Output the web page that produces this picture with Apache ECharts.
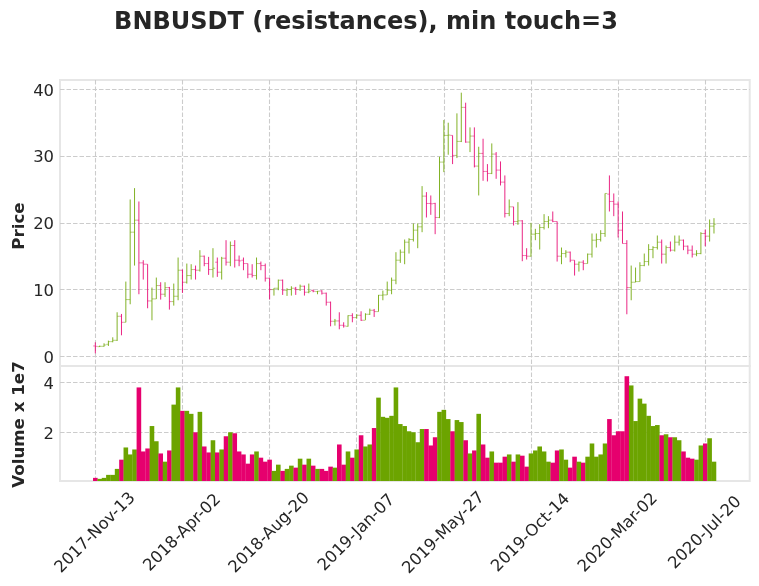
<!DOCTYPE html>
<html>
<head>
<meta charset="utf-8">
<script src="https://cdn.jsdelivr.net/npm/echarts@6/dist/echarts.min.js"></script>
<style>html,body{margin:0;padding:0;background:#fff}#c{width:759px;height:586px}</style>
</head>
<body>
<div id="c"></div>
<script>
const opens=[1.55,1.45,1.5,1.8,2.2,2.4,6.0,5.1,8.5,18.6,20.4,14.0,13.8,8.3,8.6,10.6,9.3,10.3,8.2,9.0,12.9,11.1,12.1,13.0,12.9,15.0,13.9,13.0,14.1,12.6,14.7,14.1,16.6,14.4,14.4,13.9,12.3,12.1,13.9,13.6,11.7,10.0,10.2,11.4,9.9,10.0,10.2,10.0,10.5,9.6,9.85,9.7,9.8,9.45,8.1,5.25,5.3,4.65,4.5,6.1,5.8,6.15,5.4,6.3,6.9,6.7,9.15,9.2,9.9,11.4,14.4,15.6,17.1,17.5,18.9,19.4,24.0,22.9,22.9,20.8,29.1,33.1,33.1,30.1,32.2,37.3,32.1,33.0,28.5,30.4,27.7,27.4,30.3,27.9,26.1,21.4,22.4,20.2,20.3,15.1,15.0,18.3,18.4,19.3,20.2,20.4,20.2,15.0,15.4,15.6,14.4,13.8,14.1,13.9,15.3,17.4,17.5,18.4,24.3,23.2,22.8,18.9,16.9,10.3,11.1,11.2,13.6,14.2,16.0,16.3,17.1,15.3,16.3,15.9,17.1,17.4,16.5,15.9,15.3,15.4,18.4,18.0,19.5];
const highs=[2.1,1.6,1.95,2.35,2.85,6.6,6.35,11.2,23.5,25.2,23.2,14.4,13.8,10.3,11.8,11.1,11.1,10.4,10.9,14.8,13.0,13.9,13.8,13.6,15.9,15.1,14.9,16.2,14.8,14.9,17.4,17.2,17.4,15.1,14.8,13.9,13.8,14.8,14.2,13.9,11.7,10.2,11.5,11.5,10.2,10.5,10.4,10.75,10.6,10.9,10.0,9.8,9.9,9.55,8.2,5.6,6.6,5.1,6.15,6.45,6.3,6.75,6.45,7.15,7.1,9.2,9.85,11.2,11.8,15.6,16.0,17.5,17.7,19.9,19.9,25.5,24.6,24.1,23.0,29.9,35.4,35.0,33.1,36.4,39.5,38.0,34.3,34.3,31.4,32.6,28.8,31.9,30.6,29.2,27.1,23.5,22.4,23.1,20.4,16.2,20.0,19.1,19.8,21.3,21.0,21.7,20.2,16.3,15.9,15.7,14.4,14.2,14.4,15.4,18.4,18.4,18.9,24.4,27.1,24.4,23.2,21.7,17.4,13.6,13.3,14.1,15.4,16.8,16.5,18.1,17.5,16.6,17.2,18.1,18.1,17.5,16.6,16.6,15.9,18.6,19.0,20.5,20.7];
const lows=[0.45,1.4,1.45,1.55,2.1,2.3,3.15,5.1,7.8,13.6,9.3,11.5,7.2,5.4,8.6,8.5,8.9,7.0,7.6,8.4,9.5,10.9,11.5,11.5,12.7,13.5,12.2,11.8,11.9,11.5,13.6,13.5,13.3,13.5,12.9,11.7,11.8,11.5,12.9,11.2,8.5,9.1,9.9,9.2,9.05,9.1,9.2,9.8,9.1,9.45,9.6,9.3,9.25,7.6,4.5,4.6,4.05,4.3,4.45,5.1,5.65,5.3,5.45,6.2,5.9,6.7,8.4,9.2,9.3,10.8,14.0,13.8,15.4,17.2,16.2,18.6,20.8,21.2,18.3,20.7,27.6,30.2,28.8,29.7,32.1,32.0,30.6,28.3,24.1,26.3,26.2,27.3,26.6,25.6,20.8,21.0,19.6,19.7,14.25,14.5,14.95,17.4,16.0,19.0,19.2,20.1,14.2,13.8,14.8,14.1,12.1,12.7,12.9,13.9,14.8,16.3,17.2,17.9,21.7,21.0,17.8,16.9,6.3,8.4,11.1,11.2,13.5,13.6,14.7,16.0,13.9,13.9,15.7,15.7,16.6,15.9,15.3,14.8,15.0,15.3,16.5,17.2,18.4];
const closes=[1.5,1.5,1.7,2.2,2.4,6.0,5.1,8.5,18.6,20.4,14.0,13.8,8.3,8.6,10.6,9.3,10.3,8.2,9.0,12.9,11.1,12.1,13.0,12.9,15.0,13.9,13.0,13.2,12.6,14.7,14.1,16.6,14.4,14.3,13.9,12.3,12.1,13.9,13.6,11.7,10.0,10.2,11.4,9.9,10.0,10.2,10.0,10.5,9.6,9.75,9.75,9.75,9.45,8.1,5.25,5.3,4.65,4.55,6.1,5.8,6.15,5.4,6.3,6.9,6.7,9.15,9.2,9.9,11.4,14.4,15.6,17.1,17.5,18.9,19.4,24.0,22.9,22.85,20.8,29.1,33.1,33.15,30.1,32.2,37.3,32.1,33.0,28.5,30.4,27.7,27.4,30.3,27.9,26.1,21.4,22.4,20.2,20.3,15.1,15.0,18.3,18.4,19.3,20.2,20.4,20.2,15.0,15.4,15.6,14.4,13.8,14.1,13.9,15.3,17.4,17.5,18.4,24.4,23.2,22.8,18.9,16.9,10.3,11.1,11.2,13.6,14.2,16.0,16.3,17.1,15.3,16.3,15.9,17.1,17.4,16.5,15.9,15.3,15.4,18.4,18.0,19.5,19.8];
const volumes=[0.18,0.14,0.18,0.30,0.30,0.54,0.91,1.40,1.12,1.32,3.81,1.24,1.36,2.26,1.65,1.16,0.83,1.28,3.12,3.81,2.87,2.87,2.75,2.01,2.83,1.44,1.20,1.69,1.20,1.32,1.85,2.01,1.97,1.24,1.12,0.75,1.12,1.24,0.99,0.83,0.91,0.46,0.71,0.46,0.54,0.67,0.59,0.95,0.71,0.95,0.67,0.54,0.54,0.46,0.63,0.59,1.52,0.71,1.24,0.99,1.32,1.89,1.44,1.52,2.18,3.40,2.63,2.59,2.67,3.81,2.34,2.26,2.05,2.01,1.61,2.14,2.14,1.48,1.81,2.83,2.91,2.54,2.05,2.50,2.42,1.69,1.16,1.28,2.75,1.52,0.99,1.24,0.79,0.79,1.03,1.12,0.83,1.12,1.07,0.63,1.16,1.28,1.44,1.24,0.83,0.79,1.28,1.32,0.91,0.59,1.03,0.83,0.79,1.03,1.56,1.03,1.12,1.56,2.54,1.89,2.05,2.05,4.26,3.89,2.46,3.36,3.16,2.67,2.26,2.30,1.89,1.93,1.81,1.81,1.69,1.24,0.99,0.95,0.91,1.48,1.56,1.77,0.83];
const tickPositions=[0,20,40,60,80,100,120,140];
const tickLabels=['2017-Nov-13','2018-Apr-02','2018-Aug-20','2019-Jan-07','2019-May-27','2019-Oct-14','2020-Mar-02','2020-Jul-20'];
const priceTicks=[0,10,20,30,40];
const volumeTicks=[2,4];

const UP='#6ca400', DOWN='#e6006e', TXT='#262626';
const FONT='"DejaVu Sans"';
const indexes=opens.map((_,i)=>i);
const XMIN=-8.11, XMAX=150.2;
const grid={show:true,backgroundColor:'#fff',borderColor:'#e6e6e6',borderWidth:2,outerBoundsMode:'none',containLabel:false};
const split={show:true,lineStyle:{color:'#cccccc',width:1.1,type:[4.5,2]}};
const yLabel={margin:6,formatter:v=>'{a|'+v+'}',
  rich:{a:{color:TXT,fontFamily:FONT,fontSize:16.4,padding:[4,0,0,0]}}};

function renderOhlc(params,api){
  const i=api.value(0), o=api.value(1), h=api.value(2), l=api.value(3), c=api.value(4);
  const color=c>=o?UP:DOWN;
  const pO=api.coord([i,o]),pH=api.coord([i,h]),pL=api.coord([i,l]),pC=api.coord([i,c]);
  const t=api.size([1,0])[0]*0.5;
  const wick={stroke:color,lineWidth:1,opacity:0.85};
  const tick={stroke:color,lineWidth:0.8,opacity:0.65};
  return {type:'group',silent:true,children:[
    {type:'line',shape:{x1:pH[0],y1:pH[1],x2:pL[0],y2:pL[1]},style:wick},
    {type:'line',shape:{x1:pO[0]-t,y1:pO[1],x2:pO[0],y2:pO[1]},style:tick},
    {type:'line',shape:{x1:pC[0],y1:pC[1],x2:pC[0]+t,y2:pC[1]},style:tick}
  ]};
}

const chart=echarts.init(document.getElementById('c'),null,{renderer:'canvas'});
chart.setOption({
  animation:false,
  backgroundColor:'#fff',
  textStyle:{fontFamily:FONT,color:TXT},
  title:{text:'BNBUSDT (resistances), min touch=3',left:361,top:6,textAlign:'center',
    textStyle:{fontFamily:FONT,fontSize:24,fontWeight:'bold',color:TXT}},
  grid:[
    Object.assign({left:60,top:80,width:689.7,height:286},grid),
    Object.assign({left:60,top:366,width:689.7,height:115},grid)
  ],
  xAxis:[
    {type:'value',gridIndex:0,min:XMIN,max:XMAX,
      axisLine:{show:false},axisTick:{show:false,customValues:tickPositions},
      axisLabel:{show:false,customValues:tickPositions},splitLine:split},
    {type:'value',gridIndex:1,min:XMIN,max:XMAX,
      axisLine:{show:false},axisTick:{show:false,customValues:tickPositions},
      axisLabel:{show:true,customValues:tickPositions,rotate:45,align:'center',verticalAlign:'middle',
        margin:52,hideOverlap:false,color:TXT,fontFamily:FONT,fontSize:16.4,
        formatter:v=>tickLabels[tickPositions.indexOf(v)]||''},
      splitLine:split}
  ],
  yAxis:[
    {type:'value',gridIndex:0,min:-1.45,max:41.4,
      name:'Price',nameLocation:'middle',nameGap:32,nameRotate:90,nameMoveOverlap:false,
      nameTextStyle:{fontFamily:FONT,fontSize:16.67,fontWeight:'bold',color:TXT,padding:[0,6,0,0]},
      axisLine:{show:false},axisTick:{show:false,customValues:priceTicks},
      axisLabel:Object.assign({customValues:priceTicks},yLabel),
      splitLine:split},
    {type:'value',gridIndex:1,min:0.054,max:4.67,
      name:'Volume x 1e7',nameLocation:'middle',nameGap:32,nameRotate:90,nameMoveOverlap:false,
      nameTextStyle:{fontFamily:FONT,fontSize:16.67,fontWeight:'bold',color:TXT,padding:[0,2,0,0]},
      axisLine:{show:false},axisTick:{show:false,customValues:volumeTicks},
      axisLabel:Object.assign({customValues:volumeTicks},yLabel),
      splitLine:split}
  ],
  series:[
    {type:'custom',name:'Price',xAxisIndex:0,yAxisIndex:0,clip:true,renderItem:renderOhlc,
      encode:{x:0,y:[1,2,3,4]},
      data:indexes.map(i=>[i,opens[i],highs[i],lows[i],closes[i]]),z:3},
    {type:'bar',name:'Volume',xAxisIndex:1,yAxisIndex:1,barWidth:4.6,clip:true,silent:true,
      data:indexes.map(i=>({value:[i,volumes[i]],itemStyle:{color:closes[i]>=opens[i]?UP:DOWN}})),z:3}
  ]
});
</script>
</body>
</html>
